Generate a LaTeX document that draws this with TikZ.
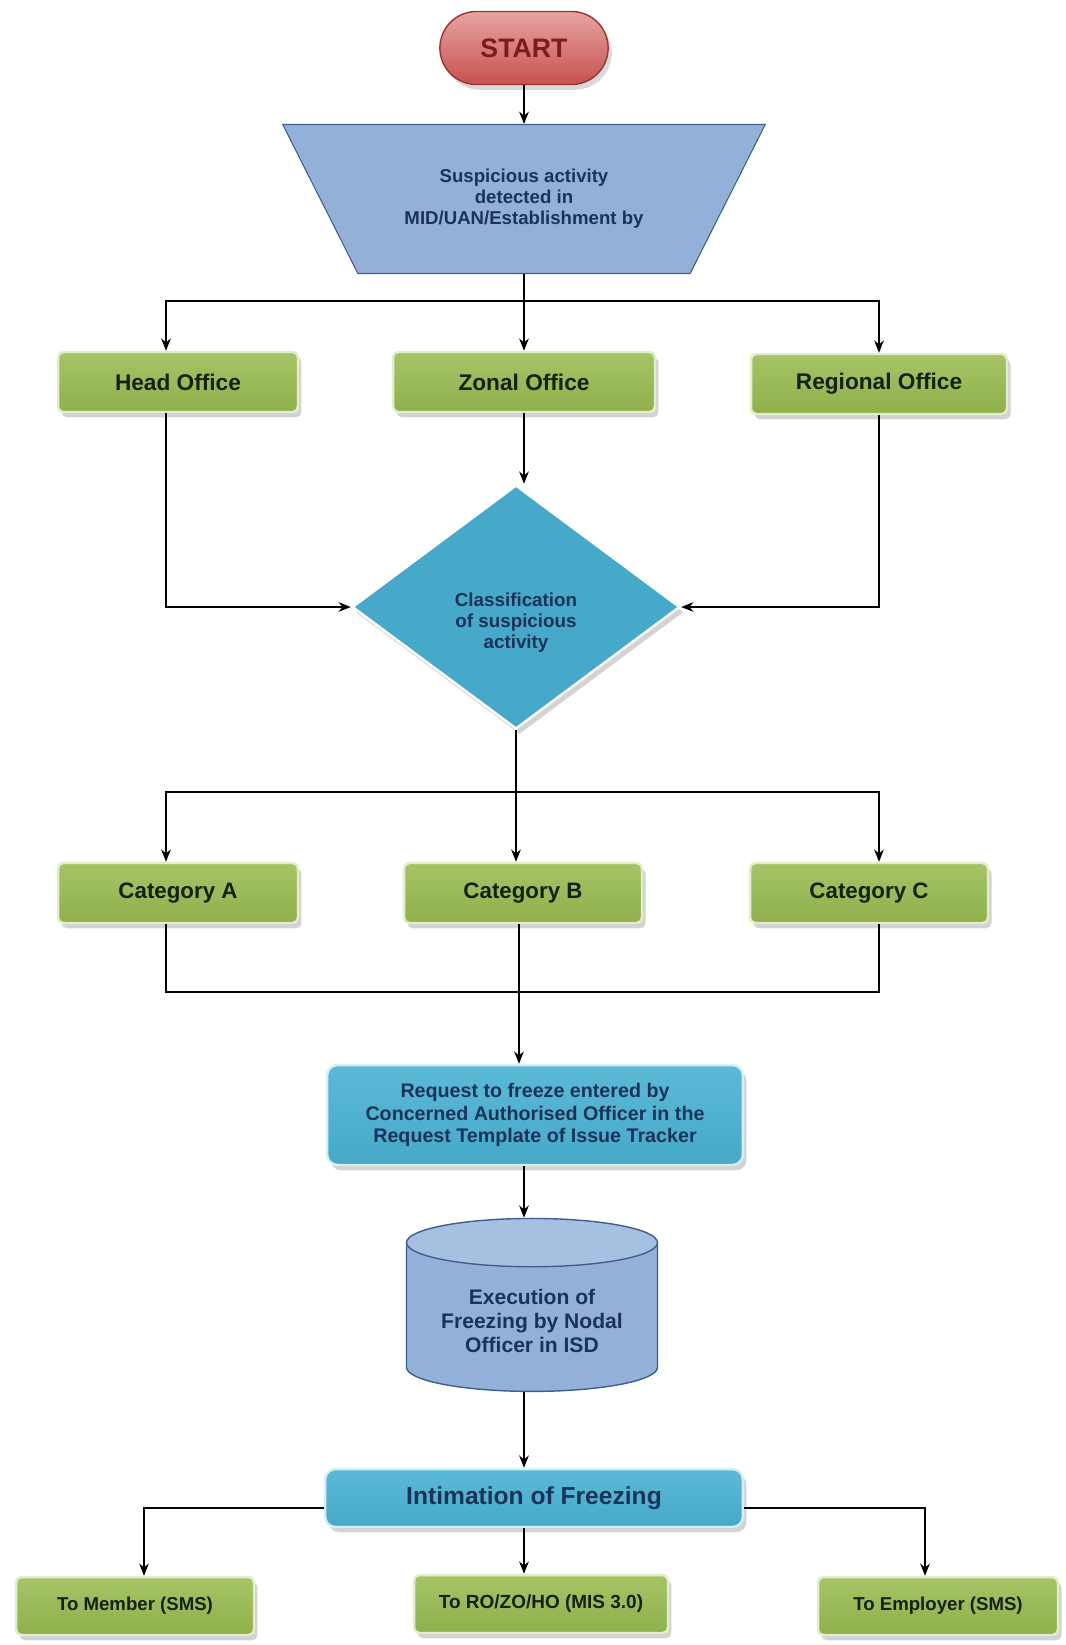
\documentclass[tikz,border=0pt]{standalone}
\usepackage{fontspec}
\setmainfont{Liberation Sans}
\usetikzlibrary{shapes.geometric,shapes.misc,arrows.meta,shadows}
\definecolor{boxgreen}{HTML}{8FB04C}
\definecolor{greentop}{HTML}{A6C466}
\definecolor{greenedge}{HTML}{E4EDCB}
\definecolor{greentext}{HTML}{17200B}
\definecolor{boxaqua}{HTML}{46A9C9}
\definecolor{aquatop}{HTML}{5BBAD6}
\definecolor{aquaedge}{HTML}{D6EEF5}
\definecolor{boxsteel}{HTML}{93B1D8}
\definecolor{steeltop}{HTML}{A6C0E2}
\definecolor{steeledge}{HTML}{3E5F8E}
\definecolor{navytext}{HTML}{1B3358}
\definecolor{startred}{HTML}{C7524F}
\definecolor{startlight}{HTML}{E8A3A0}
\definecolor{startedge}{HTML}{9A3432}
\definecolor{starttext}{HTML}{7A1C1A}

\begin{document}
\begin{tikzpicture}[x=0.02cm,y=-0.02cm,font=\bfseries,
  greenbox/.style={rectangle,rounded corners=3pt,draw=greenedge,line width=1.4pt,top color=greentop,bottom color=boxgreen,text=greentext,drop shadow={shadow xshift=2pt,shadow yshift=-3pt,opacity=.35},minimum height=1.2cm,inner sep=2pt},
  aquabox/.style={rectangle,rounded corners=6pt,draw=aquaedge,line width=1.4pt,top color=aquatop,bottom color=boxaqua,text=navytext,drop shadow={shadow xshift=2pt,shadow yshift=-3pt,opacity=.35},align=center,inner sep=2pt},
  link/.style={draw=black,line width=.9pt,-{Stealth[length=7pt,width=5.5pt]}},
  bus/.style={draw=black,line width=.9pt}]
\useasboundingbox (0,0) rectangle (1065,1645);
\node[rounded rectangle,minimum width=3.6cm,minimum height=1.46cm,draw=startedge,line width=.8pt,top color=startlight,bottom color=startred,text=starttext,drop shadow={shadow xshift=2pt,shadow yshift=-3pt,opacity=.3},font=\fontsize{15.2}{17}\bfseries] (start) at (524,48) {START};
\node[trapezium,trapezium stretches=true,trapezium left angle=128.5,trapezium right angle=128.5,minimum width=9.66cm,minimum height=2.98cm,fill=boxsteel,draw=steeledge,line width=.6pt,text=navytext,align=center,font=\fontsize{10.6}{12}\bfseries] (susp) at (524,199) {Suspicious activity\\detected in\\MID/UAN/Establishment by};
\node[greenbox,minimum width=4.8cm,font=\fontsize{12.9}{15}\bfseries] (head) at (178,382) {Head Office};
\node[greenbox,minimum width=5.24cm,font=\fontsize{12.9}{15}\bfseries] (zonal) at (524,382) {Zonal Office};
\node[greenbox,minimum width=5.12cm,font=\fontsize{12.9}{15}\bfseries] (regional) at (879,384) {Regional Office};
\node[diamond,minimum width=6.56cm,minimum height=4.88cm,inner sep=0pt,fill=boxaqua,draw=white,line width=1.4pt,drop shadow={shadow xshift=2pt,shadow yshift=-3pt,opacity=.35},
  label={[name=diamtext,yshift=-0.32cm,text=navytext,align=center,font=\fontsize{10.7}{12}\bfseries]center:Classification\\of suspicious\\activity}] (diam) at (516,607) {};
\node[greenbox,minimum width=4.8cm,font=\fontsize{12.7}{15}\bfseries] (catA) at (178,893) {Category A};
\node[greenbox,minimum width=4.76cm,font=\fontsize{12.7}{15}\bfseries] (catB) at (523,893) {Category B};
\node[greenbox,minimum width=4.76cm,font=\fontsize{12.7}{15}\bfseries] (catC) at (869,893) {Category C};
\node[aquabox,minimum width=8.32cm,minimum height=2cm,font=\fontsize{11.2}{13}\bfseries] (req) at (535,1115) {Request to freeze entered by\\Concerned Authorised Officer in the\\Request Template of Issue Tracker};
\node[cylinder,shape border rotate=90,aspect=.25,minimum width=5.02cm,minimum height=3.46cm,cylinder uses custom fill,cylinder body fill=boxsteel,cylinder end fill=steeltop,draw=steeledge,line width=.8pt,text=navytext,align=center,font=\fontsize{12}{13.7}\bfseries] (cyl) at (532,1321) {Execution of\\Freezing by Nodal\\Officer in ISD};
\node[aquabox,minimum width=8.36cm,minimum height=1.16cm,font=\fontsize{14}{16}\bfseries] (inti) at (534,1498) {Intimation of Freezing};
\node[greenbox,minimum width=4.76cm,minimum height=1.16cm,font=\fontsize{10.6}{12}\bfseries] (member) at (135,1606) {To Member (SMS)};
\node[greenbox,minimum width=5.08cm,minimum height=1.16cm,font=\fontsize{10.8}{12}\bfseries] (rozo) at (541,1604) {To RO/ZO/HO (MIS 3.0)};
\node[greenbox,minimum width=4.8cm,minimum height=1.16cm,font=\fontsize{10.6}{12}\bfseries] (employer) at (938,1606) {To Employer (SMS)};
\coordinate (ofbus) at (524,301);
\coordinate (catbus) at (516,792);
\coordinate (reqbus) at (519,992);
\draw[link] (start) -- (susp);
\draw[link] (susp.south) -- (zonal.north);
\draw[link] (ofbus) -| ([xshift=-0.24cm]head.north);
\draw[link] (ofbus) -| (regional.north);
\draw[link] ([xshift=-0.24cm]head.south) |- (diam.west);
\draw[link] (regional.south) |- (diam.east);
\draw[link] (zonal.south) -- (zonal.south |- diam.north);
\draw[link] (diam.south) -- (diam.south |- catB.north);
\draw[link] (catbus) -| ([xshift=-0.24cm]catA.north);
\draw[link] (catbus) -| ([xshift=0.2cm]catC.north);
\draw[bus] ([xshift=-0.24cm]catA.south) |- (reqbus) -| ([xshift=0.2cm]catC.south);
\draw[link] ([xshift=-0.08cm]catB.south) -- ([xshift=-0.08cm]catB.south |- req.north);
\draw[link] ([xshift=-0.22cm]req.south) -- ([xshift=-0.22cm]req.south |- cyl.north);
\draw[link] ([xshift=-0.16cm]cyl.south) -- ([xshift=-0.16cm]cyl.south |- inti.north);
\draw[link] ([yshift=-0.2cm]inti.west) -| ([xshift=0.18cm]member.north);
\draw[link] ([yshift=-0.2cm]inti.east) -| ([xshift=-0.26cm]employer.north);
\draw[link] ([xshift=-0.2cm]inti.south) -- ([xshift=-0.2cm]inti.south |- rozo.north);
\end{tikzpicture}
\end{document}
